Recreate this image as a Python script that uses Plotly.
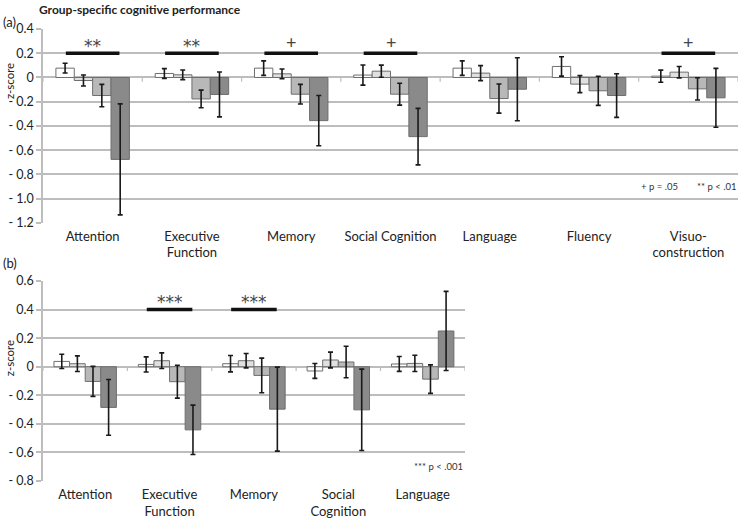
import plotly.graph_objects as go

# ---------------- data ----------------
cats_a = ["Attention", "Executive<br>Function", "Memory", "Social Cognition",
          "Language", "Fluency", "Visuo-<br>construction"]
g1_a = [0.077, 0.033, 0.077, 0.020, 0.077, 0.091, 0.011]
g1_a_err = [0.040, 0.040, 0.060, 0.083, 0.060, 0.080, 0.050]
g2_a = [-0.025, 0.022, 0.030, 0.052, 0.036, -0.055, 0.044]
g2_a_err = [0.045, 0.040, 0.040, 0.050, 0.062, 0.070, 0.047]
g3_a = [-0.149, -0.177, -0.138, -0.138, -0.174, -0.110, -0.094]
g3_a_err = [0.092, 0.073, 0.081, 0.090, 0.120, 0.120, 0.092]
g4_a = [-0.676, -0.140, -0.356, -0.488, -0.097, -0.149, -0.168]
g4_a_err = [0.458, 0.185, 0.207, 0.233, 0.260, 0.180, 0.243]

cats_b = ["Attention", "Executive<br>Function", "Memory", "Social<br>Cognition", "Language"]
g1_b = [0.037, 0.016, 0.021, -0.030, 0.019]
g1_b_err = [0.050, 0.053, 0.057, 0.052, 0.052]
g2_b = [0.021, 0.042, 0.042, 0.047, 0.023]
g2_b_err = [0.055, 0.055, 0.050, 0.055, 0.057]
g3_b = [-0.103, -0.105, -0.061, 0.033, -0.087]
g3_b_err = [0.105, 0.115, 0.121, 0.110, 0.100]
g4_b = [-0.285, -0.442, -0.297, -0.302, 0.250]
g4_b_err = [0.195, 0.173, 0.294, 0.285, 0.277]

sig_a_cats = ["Attention", "Executive<br>Function", "Memory", "Social Cognition", "Visuo-<br>construction"]
sig_a_marks = ["**", "**", "+", "+", "+"]
sig_a_level = 0.2
sig_b_cats = ["Executive<br>Function", "Memory"]
sig_b_marks = ["***", "***"]
sig_b_level = 0.4

yticks_a = [0.4, 0.2, 0, -0.2, -0.4, -0.6, -0.8, -1.0, -1.2]
yticks_b = [0.6, 0.4, 0.2, 0, -0.2, -0.4, -0.6, -0.8]

notes_a = ["+ p = .05", "** p < .01"]
note_b = "*** p < .001"

# ---------------- style ----------------
fills = ["#ffffff", "#e0e0e0", "#b8b8b8", "#8a8a8a"]
outline = "#6e6e6e"
grid = "#bdbdbd"
FONT = "Lato"


def fmt(v):
    if abs(v) < 1e-9:
        return "0"
    s = f"{abs(v):.1f}"
    return s if v > 0 else "- " + s


fig = go.Figure()

def add_panel(cats, series, errs, xa, ya):
    xs = list(range(len(cats)))
    for vals, err, col in zip(series, errs, fills):
        fig.add_trace(go.Bar(
            x=xs, y=vals, xaxis=xa, yaxis=ya,
            marker=dict(color=col, line=dict(color=outline, width=1)),
            error_y=dict(type="data", array=err, visible=True,
                         color="#1a1a1a", thickness=1.6, width=2.5),
            showlegend=False, hoverinfo="y"))

add_panel(cats_a, [g1_a, g2_a, g3_a, g4_a], [g1_a_err, g2_a_err, g3_a_err, g4_a_err], "x", "y")
add_panel(cats_b, [g1_b, g2_b, g3_b, g4_b], [g1_b_err, g2_b_err, g3_b_err, g4_b_err], "x2", "y2")

shapes = []
annotations = []

def sig(cats, sc, marks, level, xref, yref, off):
    for c, m in zip(sc, marks):
        i = cats.index(c)
        shapes.append(dict(type="line", xref=xref, yref=yref,
                           x0=i - 0.27, x1=i + 0.27, y0=level, y1=level,
                           line=dict(color="#111111", width=3.5)))
        star = "*" in m
        annotations.append(dict(text=m, xref=xref, yref=yref, x=i, y=level + off,
                                yshift=-4 if star else 0,
                                showarrow=False,
                                font=dict(family="DejaVu Sans" if star else FONT,
                                          size=17 if star else 18, color="#444")))

sig(cats_a, sig_a_cats, sig_a_marks, sig_a_level, "x", "y", 0.09)
sig(cats_b, sig_b_cats, sig_b_marks, sig_b_level, "x2", "y2", 0.08)

def zero_ticks(n, xref, yref, depth):
    for k in range(n + 1):
        shapes.append(dict(type="line", xref=xref, yref=yref,
                           x0=k - 0.5, x1=k - 0.5, y0=0, y1=-depth,
                           line=dict(color=grid, width=1.2)))

zero_ticks(len(cats_a), "x", "y", 0.035)
zero_ticks(len(cats_b), "x2", "y2", 0.03)

ytitle_font = dict(family=FONT, size=11.5, color="#222")
annotations += [
    dict(text="<b>Group-specific cognitive performance</b>", xref="paper", yref="paper",
         x=-0.009, y=1.0, yshift=20, xanchor="left", yanchor="middle", showarrow=False,
         font=dict(family=FONT, size=12, color="#222")),
    dict(text="(a)", xref="paper", yref="paper", x=-0.06, y=1.0, yshift=7,
         xanchor="left", yanchor="middle", showarrow=False,
         font=dict(family=FONT, size=13, color="#222")),
    dict(text="(b)", xref="paper", yref="paper", x=-0.06, y=0.4425, yshift=18,
         xanchor="left", yanchor="middle", showarrow=False,
         font=dict(family=FONT, size=13, color="#222")),
    dict(text="z-score", textangle=-90, xref="paper", yref="y", x=-0.0489, y=-0.03,
         xanchor="center", yanchor="middle", showarrow=False, font=ytitle_font),
    dict(text="z-score", textangle=-90, xref="paper", yref="y2", x=-0.0489, y=0.06,
         xanchor="center", yanchor="middle", showarrow=False, font=ytitle_font),
    dict(text=notes_a[0], xref="x domain", yref="y", x=0.917, y=-0.9, xanchor="right",
         yanchor="middle", showarrow=False, font=dict(family=FONT, size=9.5, color="#333")),
    dict(text=notes_a[1], xref="x domain", yref="y", x=1.0, y=-0.9, xanchor="right",
         yanchor="middle", showarrow=False, font=dict(family=FONT, size=9.5, color="#333")),
    dict(text=note_b, xref="x2 domain", yref="y2", x=1.0, y=-0.7, xanchor="right",
         yanchor="middle", showarrow=False, font=dict(family=FONT, size=9.5, color="#333")),
]

yax_common = dict(showgrid=True, gridcolor=grid, gridwidth=1.5, zeroline=False,
                  showline=True, linecolor=grid, linewidth=1.5, automargin=False,
                  ticks="outside", ticklen=5, tickcolor=grid, tickwidth=1.5,
                  tickfont=dict(family=FONT, size=12.5, color="#222"))
xax_common = dict(showgrid=False, zeroline=False, showline=False, automargin=False,
                  ticks="outside", ticklen=1, tickcolor="rgba(0,0,0,0)",
                  tickfont=dict(family=FONT, size=13, color="#222"))

fig.update_layout(
    width=740, height=519,
    margin=dict(l=43, r=2, t=29, b=38),
    paper_bgcolor="white", plot_bgcolor="white",
    barmode="group", bargap=0.26, bargroupgap=0,
    showlegend=False,
    xaxis=dict(domain=[0, 1], anchor="y", range=[-0.5, len(cats_a) - 0.5],
               tickvals=list(range(len(cats_a))), ticktext=cats_a, **xax_common),
    yaxis=dict(domain=[0.571, 1], anchor="x", range=[-1.2, 0.4],
               tickvals=yticks_a, ticktext=[fmt(v) for v in yticks_a], **yax_common),
    xaxis2=dict(domain=[0, 0.607], anchor="y2", range=[-0.5, len(cats_b) - 0.5],
                tickvals=list(range(len(cats_b))), ticktext=cats_b, **xax_common),
    yaxis2=dict(domain=[0, 0.4425], anchor="x2", range=[-0.8, 0.6],
                tickvals=yticks_b, ticktext=[fmt(v) for v in yticks_b], **yax_common),
    shapes=shapes, annotations=annotations,
)

fig.write_html("out.html", config={"displayModeBar": False},
               post_script="document.body.style.margin='0';document.body.style.overflow='hidden';")
